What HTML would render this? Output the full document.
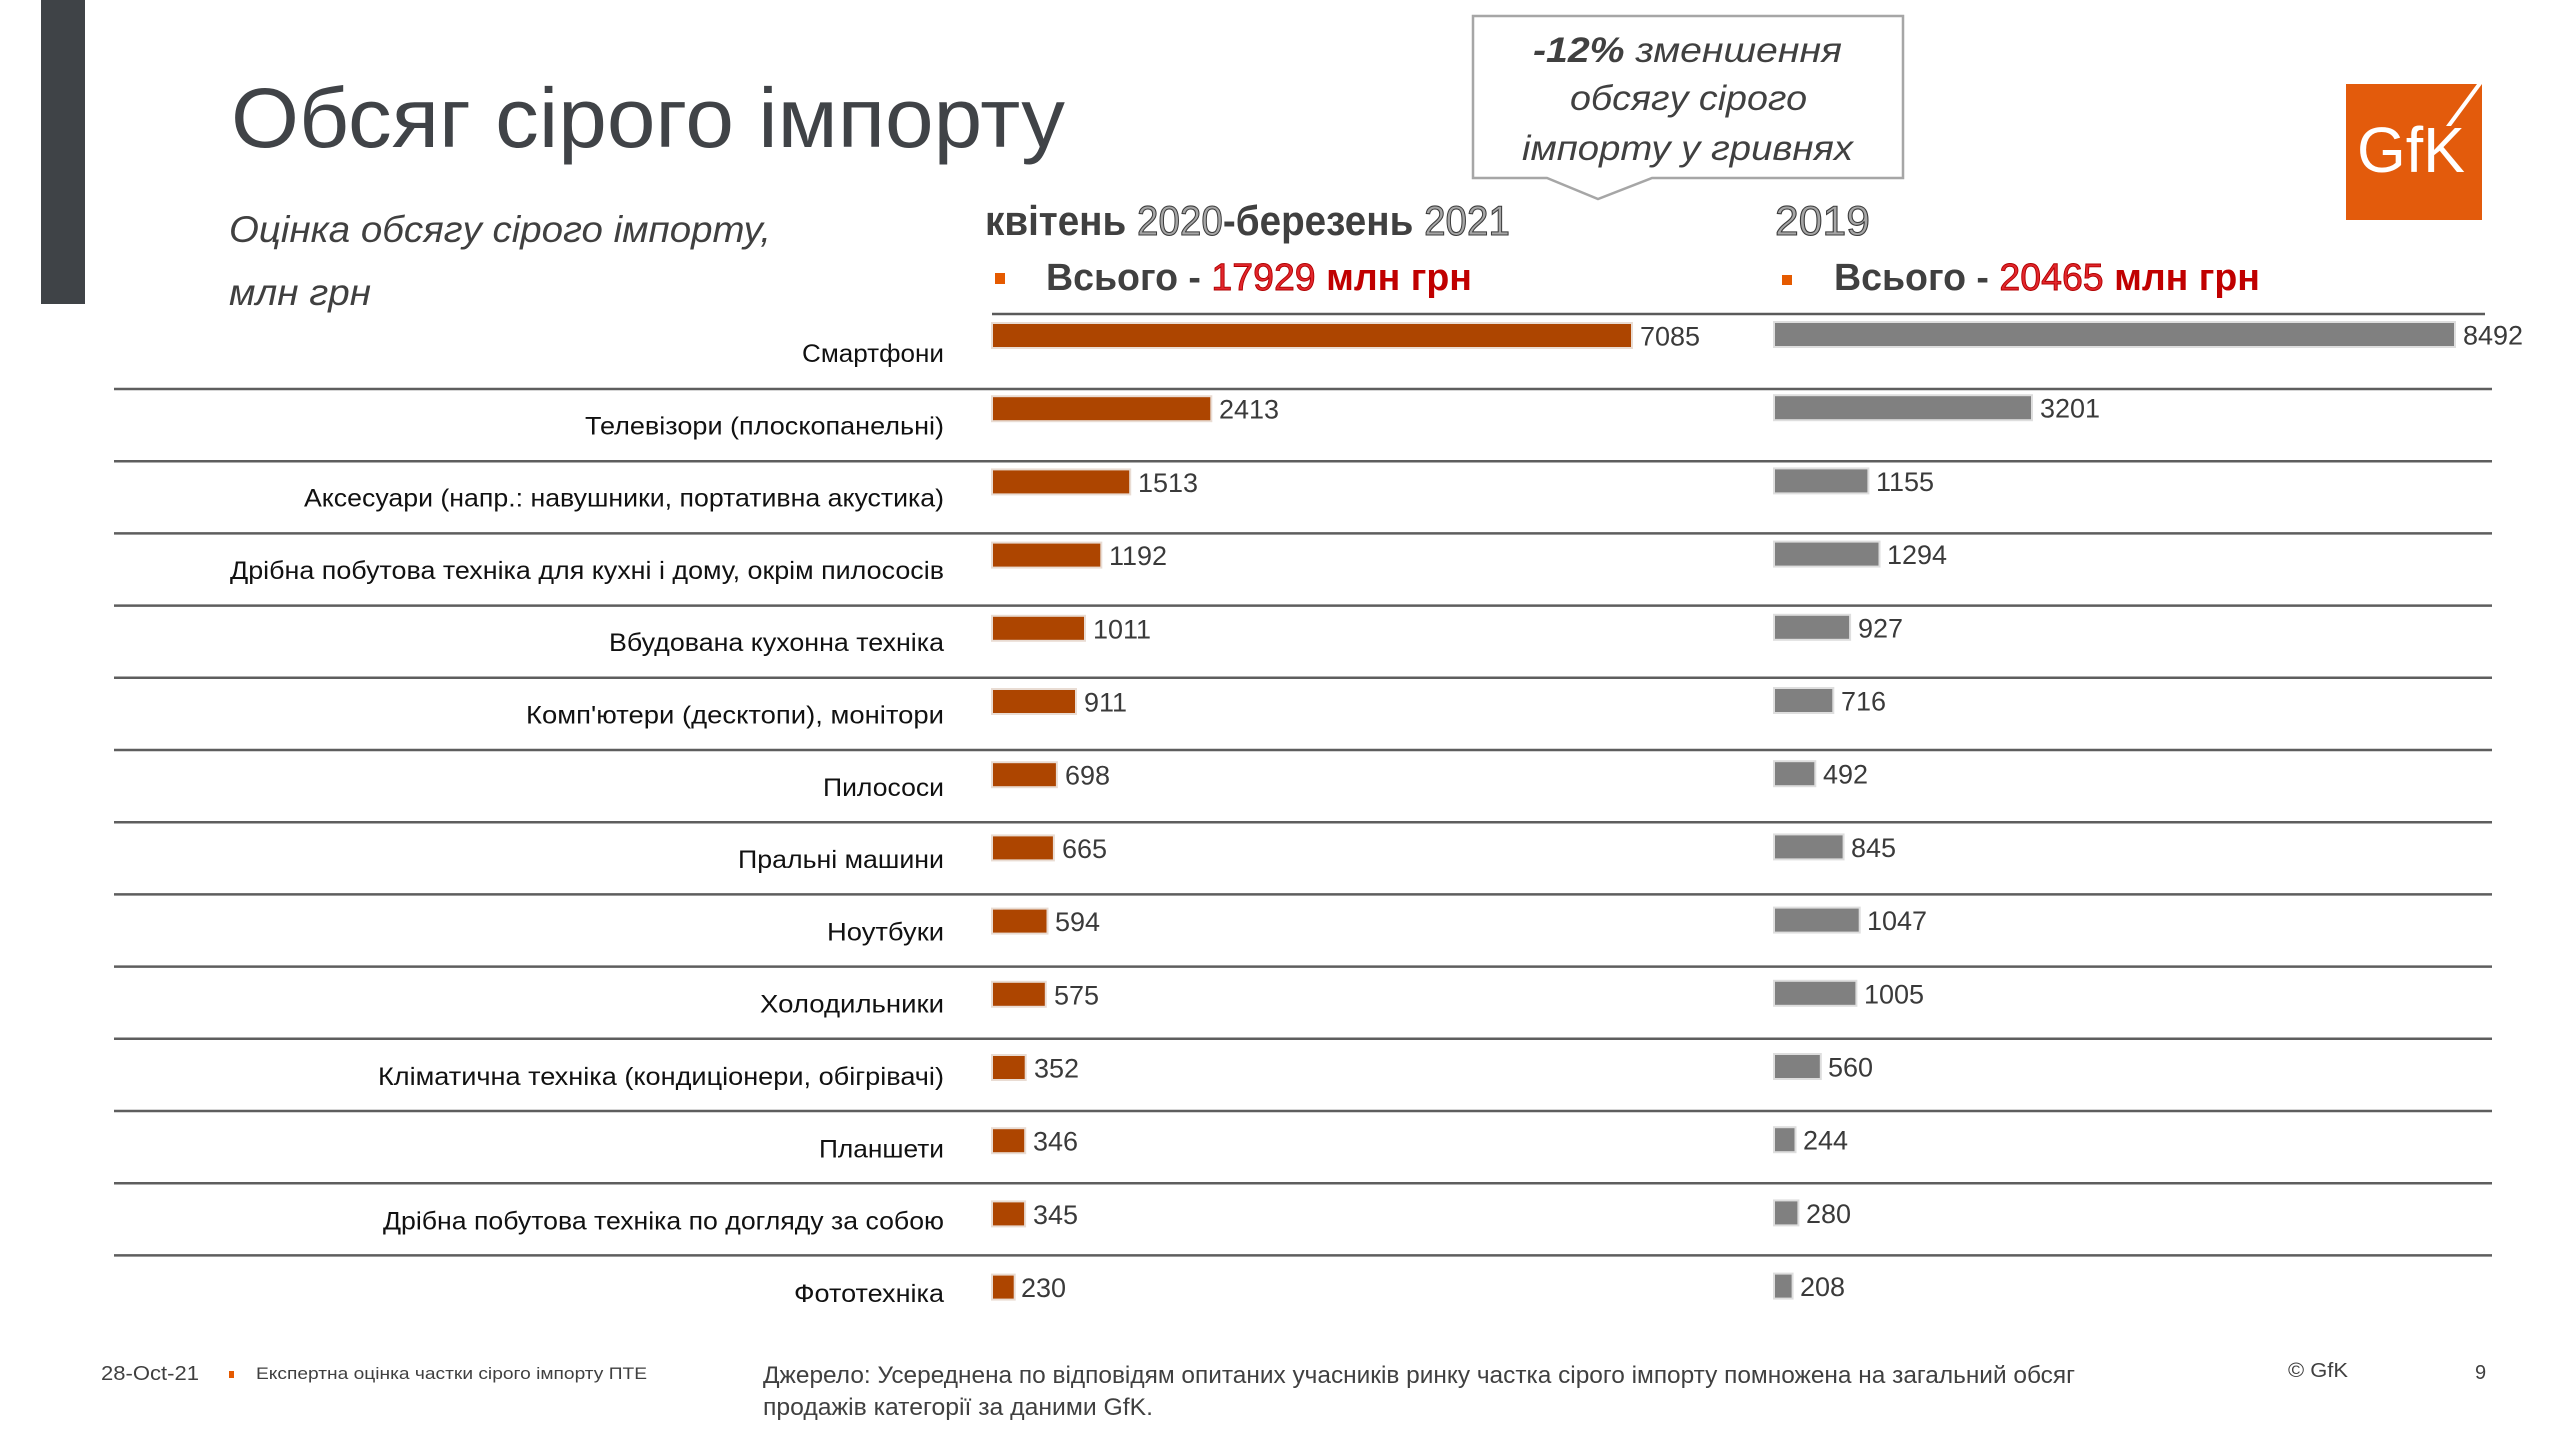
<!DOCTYPE html>
<html><head><meta charset="utf-8"><title>Обсяг сірого імпорту</title>
<style>
html,body{margin:0;padding:0;background:#fff;}
svg{display:block;}
text{font-family:"Liberation Sans","DejaVu Sans",sans-serif;}
.lbl{font-size:25px;fill:#111;}
.val{font-size:27px;fill:#3a3a3a;}
.ol{fill:#a6a6a6;stroke:#3c3c3c;stroke-width:1.1;font-weight:normal;}
.red{fill:#e2262c;stroke:#b00000;stroke-width:0.9;font-weight:normal;}
</style></head>
<body>
<svg width="2560" height="1440" viewBox="0 0 2560 1440" xmlns="http://www.w3.org/2000/svg">
<rect x="0" y="0" width="2560" height="1440" fill="#fff"/>
<!-- left dark bar -->
<rect x="41" y="0" width="44" height="304" fill="#3f4347"/>
<!-- title -->
<text x="231" y="147" font-size="84" fill="#404347" textLength="834" lengthAdjust="spacingAndGlyphs">Обсяг сірого імпорту</text>
<!-- subtitle -->
<text x="229" y="242" font-size="37" font-style="italic" fill="#404040" textLength="542" lengthAdjust="spacingAndGlyphs">Оцінка обсягу сірого імпорту,</text>
<text x="229" y="305" font-size="37" font-style="italic" fill="#404040" textLength="142" lengthAdjust="spacingAndGlyphs">млн грн</text>

<!-- callout -->
<path d="M1473,16 H1903 V178 H1652 L1598,199 L1547,178 H1473 Z" fill="#fff" stroke="#a6a6a6" stroke-width="2.5"/>
<text x="1533" y="62" font-size="35" font-style="italic" fill="#404040" textLength="309" lengthAdjust="spacingAndGlyphs"><tspan font-weight="bold">-12%</tspan> зменшення</text>
<text x="1570" y="110" font-size="35" font-style="italic" fill="#404040" textLength="237" lengthAdjust="spacingAndGlyphs">обсягу сірого</text>
<text x="1522" y="160" font-size="35" font-style="italic" fill="#404040" textLength="331" lengthAdjust="spacingAndGlyphs">імпорту у гривнях</text>

<!-- GfK logo -->
<rect x="2346" y="84" width="136" height="136" fill="#e35b0c"/>
<text x="2357" y="172" font-size="64" fill="#fff" textLength="108" lengthAdjust="spacingAndGlyphs">GfK</text>
<polygon points="2446,126 2477,84 2482,84 2451,126" fill="#fff"/>

<!-- headers -->
<text x="985" y="235" font-size="42" font-weight="bold" fill="#404040" textLength="525" lengthAdjust="spacingAndGlyphs">квітень <tspan class="ol">2020</tspan>-березень <tspan class="ol">2021</tspan></text>
<text x="1775" y="235" font-size="42" class="ol" textLength="95" lengthAdjust="spacingAndGlyphs">2019</text>

<rect x="995" y="273" width="10" height="11" fill="#e55a00"/>
<text x="1046" y="290" font-size="38" font-weight="bold" fill="#404040" textLength="426" lengthAdjust="spacingAndGlyphs">Всього - <tspan class="red">17929</tspan> <tspan fill="#c00000">млн грн</tspan></text>
<rect x="1782" y="275" width="10" height="10" fill="#e55a00"/>
<text x="1834" y="290" font-size="38" font-weight="bold" fill="#404040" textLength="426" lengthAdjust="spacingAndGlyphs">Всього - <tspan class="red">20465</tspan> <tspan fill="#c00000">млн грн</tspan></text>

<!-- header line -->
<line x1="992" y1="314" x2="2485" y2="314" stroke="#5a5a5a" stroke-width="2.5"/>

<!-- row lines -->
<g stroke="#5e5e5e" stroke-width="2.5">
<line x1="114" y1="389" x2="2492" y2="389"/>
<line x1="114" y1="461.2" x2="2492" y2="461.2"/>
<line x1="114" y1="533.4" x2="2492" y2="533.4"/>
<line x1="114" y1="605.6" x2="2492" y2="605.6"/>
<line x1="114" y1="677.8" x2="2492" y2="677.8"/>
<line x1="114" y1="750" x2="2492" y2="750"/>
<line x1="114" y1="822.2" x2="2492" y2="822.2"/>
<line x1="114" y1="894.4" x2="2492" y2="894.4"/>
<line x1="114" y1="966.6" x2="2492" y2="966.6"/>
<line x1="114" y1="1038.8" x2="2492" y2="1038.8"/>
<line x1="114" y1="1111" x2="2492" y2="1111"/>
<line x1="114" y1="1183.2" x2="2492" y2="1183.2"/>
<line x1="114" y1="1255.4" x2="2492" y2="1255.4"/>
</g>

<!-- category labels -->
<text class="lbl" x="802" y="362" textLength="142" lengthAdjust="spacingAndGlyphs">Смартфони</text>
<text class="lbl" x="585" y="434.3" textLength="359" lengthAdjust="spacingAndGlyphs">Телевізори (плоскопанельні)</text>
<text class="lbl" x="304" y="506.6" textLength="640" lengthAdjust="spacingAndGlyphs">Аксесуари (напр.: навушники, портативна акустика)</text>
<text class="lbl" x="230" y="578.9" textLength="714" lengthAdjust="spacingAndGlyphs">Дрібна побутова техніка для кухні і дому, окрім пилососів</text>
<text class="lbl" x="609" y="651.2" textLength="335" lengthAdjust="spacingAndGlyphs">Вбудована кухонна техніка</text>
<text class="lbl" x="526" y="723.5" textLength="418" lengthAdjust="spacingAndGlyphs">Комп'ютери (десктопи), монітори</text>
<text class="lbl" x="823" y="795.8" textLength="121" lengthAdjust="spacingAndGlyphs">Пилососи</text>
<text class="lbl" x="738" y="868.1" textLength="206" lengthAdjust="spacingAndGlyphs">Пральні машини</text>
<text class="lbl" x="827" y="940.4" textLength="117" lengthAdjust="spacingAndGlyphs">Ноутбуки</text>
<text class="lbl" x="760" y="1012.7" textLength="184" lengthAdjust="spacingAndGlyphs">Холодильники</text>
<text class="lbl" x="378" y="1085" textLength="566" lengthAdjust="spacingAndGlyphs">Кліматична техніка (кондиціонери, обігрівачі)</text>
<text class="lbl" x="819" y="1157.3" textLength="125" lengthAdjust="spacingAndGlyphs">Планшети</text>
<text class="lbl" x="383" y="1229.6" textLength="561" lengthAdjust="spacingAndGlyphs">Дрібна побутова техніка по догляду за собою</text>
<text class="lbl" x="794" y="1301.9" textLength="150" lengthAdjust="spacingAndGlyphs">Фототехніка</text>

<!-- left bars (2020-2021) -->
<g fill="#e9dcd3">
<rect x="991" y="322" width="642" height="27"/>
<rect x="991" y="395.2" width="221.3" height="27"/>
<rect x="991" y="468.4" width="140.2" height="27"/>
<rect x="991" y="541.6" width="111.3" height="27"/>
<rect x="991" y="614.8" width="95" height="27"/>
<rect x="991" y="688" width="86" height="27"/>
<rect x="991" y="761.2" width="66.9" height="27"/>
<rect x="991" y="834.4" width="63.9" height="27"/>
<rect x="991" y="907.6" width="57.5" height="27"/>
<rect x="991" y="980.8" width="55.8" height="27"/>
<rect x="991" y="1054" width="35.7" height="27"/>
<rect x="991" y="1127.2" width="35.2" height="27"/>
<rect x="991" y="1200.4" width="35.1" height="27"/>
<rect x="991" y="1273.6" width="24.7" height="27"/>
</g>
<g fill="#ad4500">
<rect x="993" y="324" width="638" height="23"/>
<rect x="993" y="397.2" width="217.3" height="23"/>
<rect x="993" y="470.4" width="136.2" height="23"/>
<rect x="993" y="543.6" width="107.3" height="23"/>
<rect x="993" y="616.8" width="91" height="23"/>
<rect x="993" y="690" width="82" height="23"/>
<rect x="993" y="763.2" width="62.9" height="23"/>
<rect x="993" y="836.4" width="59.9" height="23"/>
<rect x="993" y="909.6" width="53.5" height="23"/>
<rect x="993" y="982.8" width="51.8" height="23"/>
<rect x="993" y="1056" width="31.7" height="23"/>
<rect x="993" y="1129.2" width="31.2" height="23"/>
<rect x="993" y="1202.4" width="31.1" height="23"/>
<rect x="993" y="1275.6" width="20.7" height="23"/>
</g>
<g class="val">
<text class="val" x="1640" y="345.5">7085</text>
<text class="val" x="1219" y="418.7">2413</text>
<text class="val" x="1138" y="491.9">1513</text>
<text class="val" x="1109" y="565.1">1192</text>
<text class="val" x="1093" y="638.3">1011</text>
<text class="val" x="1084" y="711.5">911</text>
<text class="val" x="1065" y="784.7">698</text>
<text class="val" x="1062" y="857.9">665</text>
<text class="val" x="1055" y="931.1">594</text>
<text class="val" x="1054" y="1004.3">575</text>
<text class="val" x="1034" y="1077.5">352</text>
<text class="val" x="1033" y="1150.7">346</text>
<text class="val" x="1033" y="1223.9">345</text>
<text class="val" x="1021" y="1297.1">230</text>
</g>

<!-- right bars (2019) -->
<g fill="#dedede">
<rect x="1773" y="321" width="683" height="27"/>
<rect x="1773" y="394.2" width="260" height="27"/>
<rect x="1773" y="467.4" width="96.4" height="27"/>
<rect x="1773" y="540.6" width="107.5" height="27"/>
<rect x="1773" y="613.8" width="78.1" height="27"/>
<rect x="1773" y="687" width="61.3" height="27"/>
<rect x="1773" y="760.2" width="43.3" height="27"/>
<rect x="1773" y="833.4" width="71.6" height="27"/>
<rect x="1773" y="906.6" width="87.7" height="27"/>
<rect x="1773" y="979.8" width="84.4" height="27"/>
<rect x="1773" y="1053" width="48.8" height="27"/>
<rect x="1773" y="1126.2" width="23.5" height="27"/>
<rect x="1773" y="1199.4" width="26.4" height="27"/>
<rect x="1773" y="1272.6" width="20.6" height="27"/>
</g>
<g fill="#808080">
<rect x="1775" y="323" width="679" height="23"/>
<rect x="1775" y="396.2" width="256" height="23"/>
<rect x="1775" y="469.4" width="92.4" height="23"/>
<rect x="1775" y="542.6" width="103.5" height="23"/>
<rect x="1775" y="615.8" width="74.1" height="23"/>
<rect x="1775" y="689" width="57.3" height="23"/>
<rect x="1775" y="762.2" width="39.3" height="23"/>
<rect x="1775" y="835.4" width="67.6" height="23"/>
<rect x="1775" y="908.6" width="83.7" height="23"/>
<rect x="1775" y="981.8" width="80.4" height="23"/>
<rect x="1775" y="1055" width="44.8" height="23"/>
<rect x="1775" y="1128.2" width="19.5" height="23"/>
<rect x="1775" y="1201.4" width="22.4" height="23"/>
<rect x="1775" y="1274.6" width="16.6" height="23"/>
</g>
<g>
<text class="val" x="2463" y="344.5">8492</text>
<text class="val" x="2040" y="417.7">3201</text>
<text class="val" x="1876" y="490.9">1155</text>
<text class="val" x="1887" y="564.1">1294</text>
<text class="val" x="1858" y="637.3">927</text>
<text class="val" x="1841" y="710.5">716</text>
<text class="val" x="1823" y="783.7">492</text>
<text class="val" x="1851" y="856.9">845</text>
<text class="val" x="1867" y="930.1">1047</text>
<text class="val" x="1864" y="1003.3">1005</text>
<text class="val" x="1828" y="1076.5">560</text>
<text class="val" x="1803" y="1149.7">244</text>
<text class="val" x="1806" y="1222.9">280</text>
<text class="val" x="1800" y="1296.1">208</text>
</g>

<!-- footer -->
<text x="101" y="1380" font-size="20" fill="#404040" textLength="98" lengthAdjust="spacingAndGlyphs">28-Oct-21</text>
<rect x="229" y="1371" width="5" height="7" fill="#e55a00"/>
<text x="256" y="1379" font-size="17" fill="#404040" textLength="391" lengthAdjust="spacingAndGlyphs">Експертна оцінка частки сірого імпорту ПТЕ</text>
<text x="763" y="1383" font-size="24" fill="#404040" textLength="1312" lengthAdjust="spacingAndGlyphs">Джерело: Усереднена по відповідям опитаних учасників ринку частка сірого імпорту помножена на загальний обсяг</text>
<text x="763" y="1415" font-size="24" fill="#404040" textLength="390" lengthAdjust="spacingAndGlyphs">продажів категорії за даними GfK.</text>
<text x="2288" y="1377" font-size="20" fill="#404040" textLength="60" lengthAdjust="spacingAndGlyphs">© GfK</text>
<text x="2475" y="1379" font-size="20" fill="#404040">9</text>
</svg>
</body></html>
